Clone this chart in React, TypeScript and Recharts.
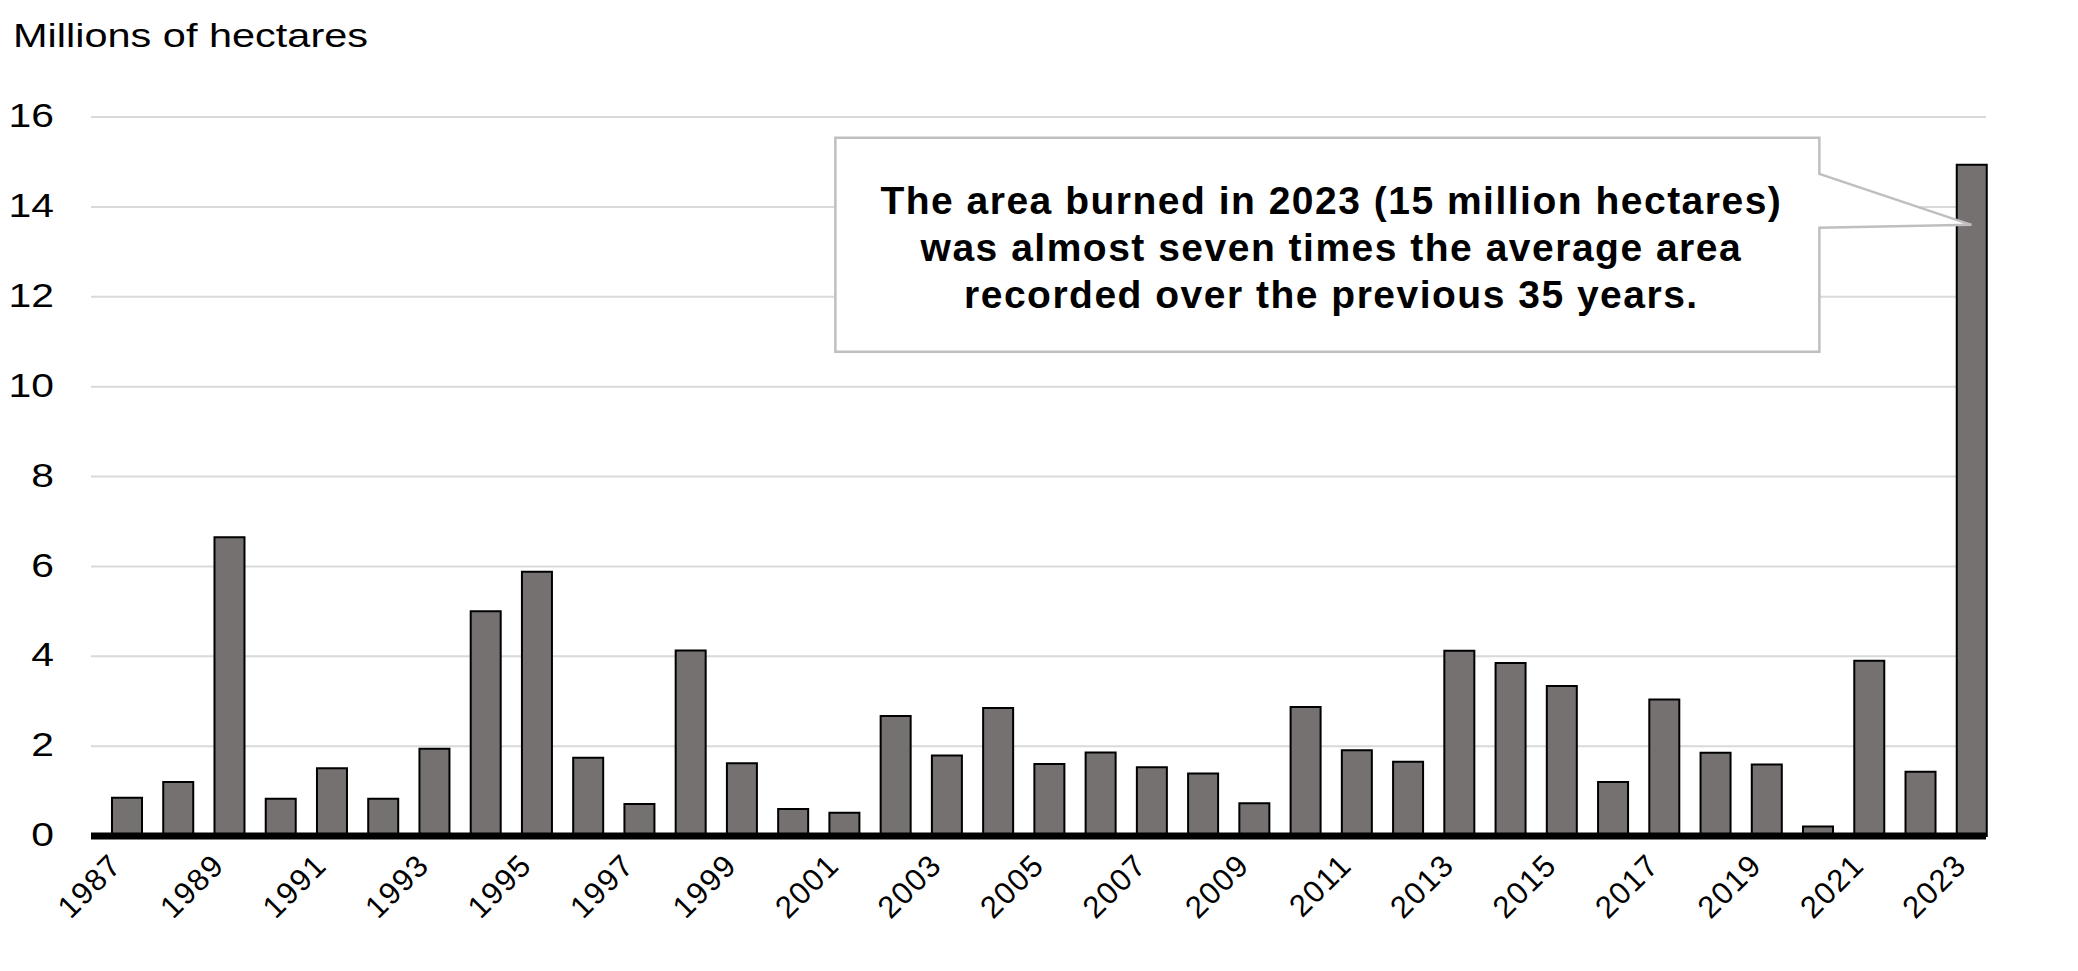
import { BarChart, Bar, XAxis, YAxis, CartesianGrid, ReferenceDot } from 'recharts';

// Area burned in Canada, millions of hectares
const years = [
  '1987', '1988', '1989', '1990', '1991', '1992', '1993', '1994', '1995', '1996',
  '1997', '1998', '1999', '2000', '2001', '2002', '2003', '2004', '2005', '2006',
  '2007', '2008', '2009', '2010', '2011', '2012', '2013', '2014', '2015', '2016',
  '2017', '2018', '2019', '2020', '2021', '2022', '2023',
];
const areaBurned = [
  0.85, 1.2, 6.65, 0.83, 1.51, 0.83, 1.94, 5.0, 5.88, 1.74,
  0.71, 4.13, 1.62, 0.6, 0.52, 2.67, 1.79, 2.85, 1.6, 1.86,
  1.53, 1.39, 0.73, 2.87, 1.91, 1.65, 4.12, 3.85, 3.34, 1.2,
  3.04, 1.85, 1.59, 0.21, 3.9, 1.43, 14.94,
];
const yTicks = [0, 2, 4, 6, 8, 10, 12, 14, 16];

const calloutYear = '2023';
const calloutValue = 13.6;
const calloutLines = [
  'The area burned in 2023 (15 million hectares)',
  'was almost seven times the average area',
  'recorded over the previous 35 years.',
];

const data = years.map((year, i) => ({ year, area: areaBurned[i] }));

const FONT = '"Liberation Sans", Arial, sans-serif';
// the source text is drawn a little wider than plain Arial
const STRETCH = 1.2;

const YTick = (props: any) => {
  const { x, y, payload } = props;
  return (
    <g transform={`translate(${x - 37} ${y}) scale(${STRETCH} 1)`}>
      <text x={0} y={0} dy="0.3em" textAnchor="end" fontFamily={FONT} fontSize={34} fill="#000">
        {payload.value}
      </text>
    </g>
  );
};

const XTick = (props: any) => {
  const { x, y, payload } = props;
  const px = x - 3;
  const py = y + 31;
  return (
    <text x={px} y={py} textAnchor="end" transform={`rotate(-45 ${px} ${py})`} fontFamily={FONT} fontSize={31} letterSpacing={1.5} fill="#000">
      {payload.value}
    </text>
  );
};

const Callout = (props: any) => {
  const { cx, cy } = props;
  const left = cx - 1136;
  const right = cx - 152;
  const top = cy - 87;
  const bottom = cy + 127;
  const d = `M${left},${top} H${right} V${cy - 51} L${cx},${cy} L${right},${cy + 3} V${bottom} H${left} Z`;
  return (
    <g>
      <path d={d} fill="#fff" stroke="#bfbfbf" strokeWidth={2.5} />
      {calloutLines.map((line, i) => (
        <text
          key={i}
          x={(left + right) / 2 + 4}
          y={cy - 11 + i * 47}
          textAnchor="middle"
          fontFamily={FONT}
          fontWeight="bold"
          fontSize={39}
          letterSpacing={1.5}
          fill="#000"
        >
          {line}
        </text>
      ))}
    </g>
  );
};

export default function App() {
  return (
    <div style={{ position: 'absolute', left: 0, top: 0, width: 2078, height: 971, background: '#fff' }}>
      <div
        style={{
          position: 'absolute',
          left: 13,
          top: 16,
          fontFamily: FONT,
          fontSize: 34,
          color: '#000',
          whiteSpace: 'nowrap',
          transform: `scaleX(${STRETCH + 0.02})`,
          transformOrigin: 'left top',
        }}
      >
        Millions of hectares
      </div>
      <BarChart width={2078} height={971} data={data} margin={{ top: 117, right: 92, bottom: 0, left: 0 }}>
        <CartesianGrid vertical={false} stroke="#d9d9d9" strokeWidth={2} />
        <XAxis
          dataKey="year"
          interval={1}
          height={135}
          padding={{ left: 10, right: -11 }}
          tickLine={false}
          tickSize={0}
          tickMargin={0}
          axisLine={{ stroke: '#000', strokeWidth: 7 }}
          tick={<XTick />}
        />
        <YAxis
          width={91}
          domain={[0, 16]}
          ticks={yTicks}
          interval={0}
          axisLine={false}
          tickLine={false}
          tickSize={0}
          tickMargin={0}
          tick={<YTick />}
        />
        <Bar dataKey="area" fill="#767171" stroke="#000" strokeWidth={2} barSize={30} isAnimationActive={false} />
        <ReferenceDot x={calloutYear} y={calloutValue} ifOverflow="visible" shape={<Callout />} />
      </BarChart>
    </div>
  );
}
